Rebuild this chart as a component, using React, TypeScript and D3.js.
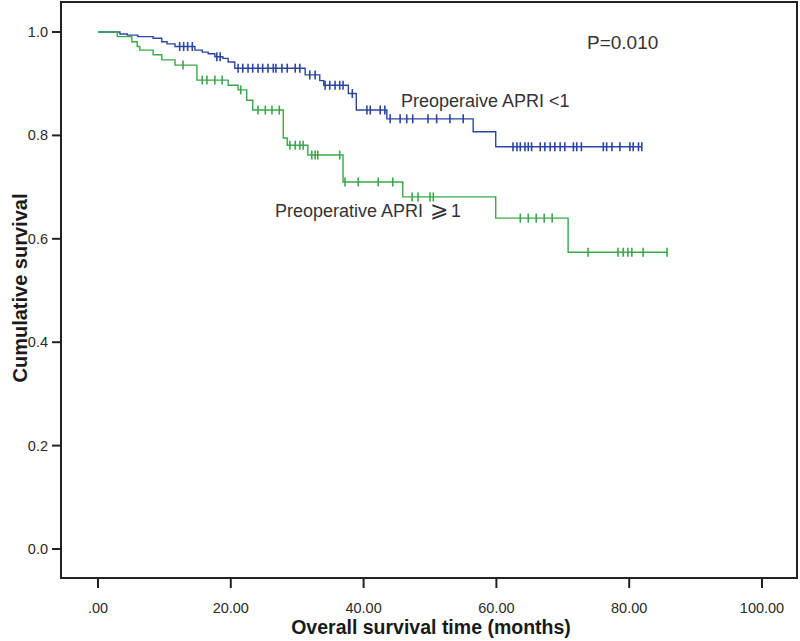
import React from "react";
import * as d3 from "d3";

const xTicks = [0, 20, 40, 60, 80, 100];
const yTicks = [0, 0.2, 0.4, 0.6, 0.8, 1.0];

// APRI < 1 (blue)
const blueEventTimes = [3.3, 4.4, 6.0, 8.3, 9.6, 10.4, 11.6, 14.6, 15.7, 16.6, 17.6, 18.8, 19.6, 20.6, 31.2, 33.4, 34.0, 37.7, 38.9, 43.5, 56.5, 59.9];
const blueSurvival = [0.996, 0.994, 0.991, 0.988, 0.981, 0.977, 0.972, 0.965, 0.961, 0.958, 0.952, 0.949, 0.942, 0.930, 0.917, 0.906, 0.897, 0.881, 0.849, 0.832, 0.807, 0.778];
const blueEnd = 81.9;
const blueCensor = [12.3, 12.9, 13.5, 14.2, 17.9, 18.4, 21.1, 21.8, 22.6, 23.3, 24.1, 24.8, 25.6, 26.4, 26.8, 27.7, 28.5, 29.7, 30.4, 31.9, 32.7, 34.2, 34.9, 35.7, 36.4, 36.9, 38.3, 40.5, 41.0, 42.5, 43.2, 44.0, 45.5, 46.5, 47.4, 49.7, 51.0, 53.0, 55.0, 62.5, 63.1, 63.6, 64.3, 64.8, 65.3, 66.6, 67.3, 68.1, 68.8, 69.6, 70.3, 71.6, 72.1, 72.8, 76.1, 76.6, 77.4, 78.6, 80.1, 80.6, 81.4, 81.9];

// APRI >= 1 (green)
const greenEventTimes = [2.9, 5.1, 5.9, 6.3, 8.3, 9.6, 11.6, 14.9, 19.6, 21.1, 22.4, 23.3, 27.9, 28.5, 31.6, 36.9, 45.9, 59.9, 70.8];
const greenSurvival = [0.991, 0.981, 0.972, 0.965, 0.956, 0.946, 0.936, 0.907, 0.897, 0.888, 0.868, 0.849, 0.795, 0.781, 0.762, 0.710, 0.681, 0.640, 0.574];
const greenEnd = 85.7;
const greenCensor = [12.8, 15.7, 16.4, 17.6, 18.7, 21.5, 24.1, 25.2, 26.2, 27.3, 28.9, 29.7, 30.4, 30.9, 32.2, 32.7, 33.1, 36.4, 37.2, 39.2, 42.2, 44.4, 47.3, 48.2, 50.0, 50.5, 63.6, 64.8, 66.0, 67.2, 68.4, 73.8, 78.3, 79.1, 79.8, 80.4, 82.1, 85.7];

const BLUE = "#2b45a3";
const GREEN = "#38a848";
const AXIS = "#222";
const FONT = "'Liberation Sans', Arial, sans-serif";

const x = d3.scaleLinear().domain([0, 100]).range([98, 762]);
const y = d3.scaleLinear().domain([0, 1]).range([549, 32]);

function stepPoints(times: number[], surv: number[], end: number): [number, number][] {
  const pts: [number, number][] = [[0, 1]];
  times.forEach((t, i) => pts.push([t, surv[i]]));
  pts.push([end, surv[surv.length - 1]]);
  return pts;
}

function survAt(times: number[], surv: number[], t: number) {
  let s = 1;
  for (let i = 0; i < times.length; i++) if (times[i] <= t) s = surv[i];
  return s;
}

const line = d3
  .line<[number, number]>()
  .x((d) => x(d[0]))
  .y((d) => y(d[1]))
  .curve(d3.curveStepAfter);

function Curve({ times, surv, end, censor, color }: any) {
  const pts = stepPoints(times, surv, end);
  return (
    <g>
      <path d={line(pts) || ""} fill="none" stroke={color} strokeWidth={1.4} />
      {censor.map((t: number, i: number) => {
        const cx = x(t);
        const cy = y(survAt(times, surv, t));
        return <line key={i} x1={cx} x2={cx} y1={cy - 4.5} y2={cy + 4.5} stroke={color} strokeWidth={1.6} />;
      })}
    </g>
  );
}

export default function App() {
  const left = 61, top = 2, right = 797, bottom = 578;
  return (
    <svg width={800} height={641} style={{ position: "absolute", left: 0, top: 0, background: "#fff" }}>
      <rect x={0} y={0} width={800} height={641} fill="#fff" />
      <Curve times={blueEventTimes} surv={blueSurvival} end={blueEnd} censor={blueCensor} color={BLUE} />
      <Curve times={greenEventTimes} surv={greenSurvival} end={greenEnd} censor={greenCensor} color={GREEN} />
      <rect x={left} y={top} width={right - left} height={bottom - top} fill="none" stroke={AXIS} strokeWidth={2} />
      {yTicks.map((v) => (
        <g key={v}>
          <line x1={left - 9} x2={left} y1={y(v)} y2={y(v)} stroke={AXIS} strokeWidth={2} />
          <text x={left - 13} y={y(v) + 5} textAnchor="end" fontFamily={FONT} fontSize={14.5} fill="#2a2a2a">
            {d3.format(".1f")(v)}
          </text>
        </g>
      ))}
      {xTicks.map((v) => (
        <g key={v}>
          <line x1={x(v)} x2={x(v)} y1={bottom} y2={bottom + 10} stroke={AXIS} strokeWidth={2} />
          <text x={x(v)} y={613} textAnchor="middle" fontFamily={FONT} fontSize={14.5} fill="#2a2a2a">
            {v === 0 ? ".00" : d3.format(".2f")(v)}
          </text>
        </g>
      ))}
      <text x={431} y={634} textAnchor="middle" fontFamily={FONT} fontSize={19.5} fontWeight="bold" fill="#1a1a1a">
        Overall survival time (months)
      </text>
      <text transform="translate(27,288) rotate(-90)" textAnchor="middle" fontFamily={FONT} fontSize={20} fontWeight="bold" fill="#1a1a1a">
        Cumulative survival
      </text>
      <text x={587} y={49} fontFamily={FONT} fontSize={19} fill="#333">P=0.010</text>
      <text x={401} y={107} fontFamily={FONT} fontSize={18} fill="#333">Preoperaive APRI &lt;1</text>
      <text x={275} y={217} fontFamily={FONT} fontSize={18} fill="#333">
        Preoperative APRI <tspan fontSize={22} dx={2}>⩾</tspan><tspan dx={3}>1</tspan>
      </text>
    </svg>
  );
}
